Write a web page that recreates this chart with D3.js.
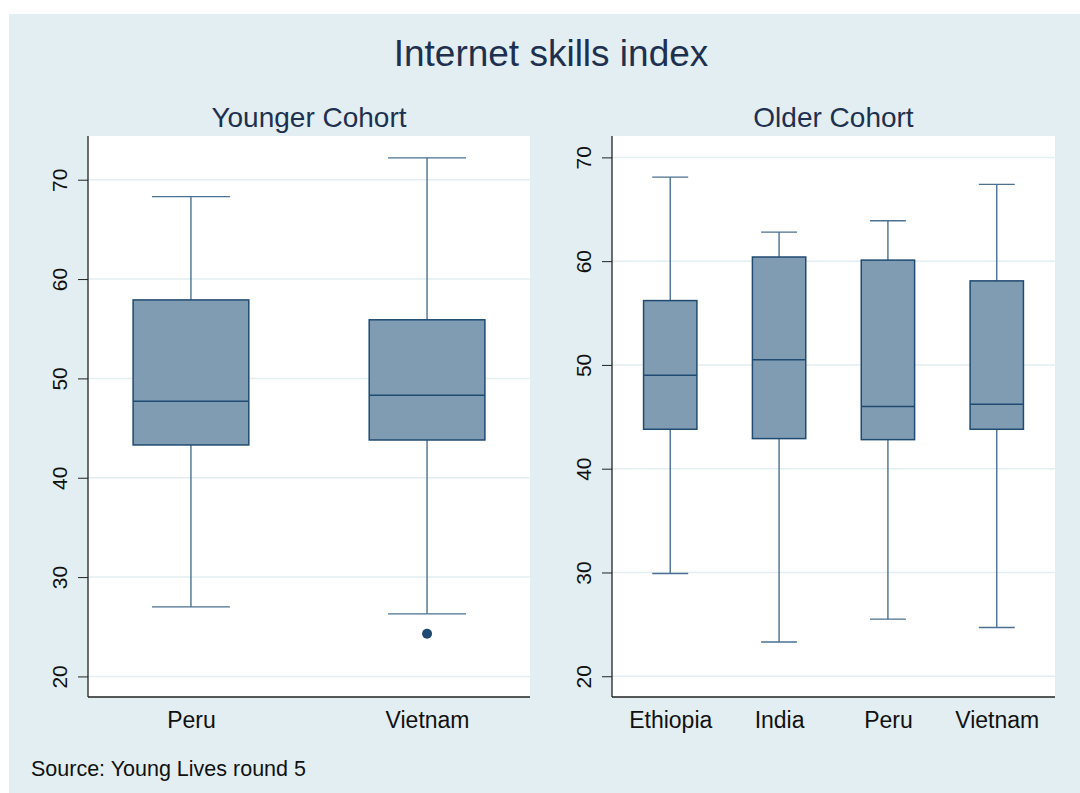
<!DOCTYPE html>
<html>
<head>
<meta charset="utf-8">
<script src="https://cdn.jsdelivr.net/npm/d3@7"></script>
<style>
  body { margin: 0; background: #fff; }
  text { font-family: "Liberation Sans", Arial, sans-serif; }
</style>
</head>
<body>
<script>
// data
var yTicks = [20, 30, 40, 50, 60, 70];

var youngCountries = ["Peru", "Vietnam"];
var youngMin    = [27.0, 26.3];
var youngQ1     = [43.3, 43.8];
var youngMedian = [47.7, 48.3];
var youngQ3     = [57.9, 55.9];
var youngMax    = [68.3, 72.2];
var youngOutliers = [[], [24.3]];

var olderCountries = ["Ethiopia", "India", "Peru", "Vietnam"];
var olderMin    = [29.9, 23.3, 25.5, 24.7];
var olderQ1     = [43.8, 42.9, 42.8, 43.8];
var olderMedian = [49.0, 50.5, 46.0, 46.2];
var olderQ3     = [56.2, 60.4, 60.1, 58.1];
var olderMax    = [68.1, 62.8, 63.9, 67.4];
var olderOutliers = [[], [], [], []];

var W = 1080, H = 793;
var boxFill = "#809cb3", boxLine = "#1f4a72", whiskerCol = "#4b7092";

var svg = d3.select("body").append("svg")
    .attr("width", W).attr("height", H);

// stata-ish background
svg.append("rect").attr("x", 9).attr("y", 14)
    .attr("width", W - 9).attr("height", H - 14)
    .attr("fill", "#e2eef1");

svg.append("text")
    .attr("x", 551).attr("y", 66)
    .attr("text-anchor", "middle")
    .attr("font-size", 37)
    .attr("fill", "#1e3050")
    .text("Internet skills index");

svg.append("text")
    .attr("x", 31).attr("y", 776)
    .attr("font-size", 21.5)
    .attr("fill", "#111")
    .text("Source: Young Lives round 5");

function drawPanel(opts) {
  var x0 = opts.x0, x1 = opts.x1, top = 136, bottom = 697;
  var rows = opts.cats.map(function(c, i) {
    return { cat: c, min: opts.min[i], q1: opts.q1[i], med: opts.med[i],
             q3: opts.q3[i], max: opts.max[i], out: opts.out[i] };
  });

  var y = d3.scaleLinear().domain(opts.domain).range([bottom, top]);
  var x = d3.scalePoint().domain(opts.cats).range([x0, x1]).padding(opts.pad);
  var step = x.step(), bw = step * 0.49, cw = step * 0.33;

  var g = svg.append("g");

  // plot region
  g.append("rect").attr("x", x0).attr("y", top)
      .attr("width", x1 - x0).attr("height", bottom - top)
      .attr("fill", "#fff");

  // grid
  g.selectAll(".grid").data(yTicks).enter().append("line")
      .attr("x1", x0).attr("x2", x1)
      .attr("y1", function(d) { return y(d); })
      .attr("y2", function(d) { return y(d); })
      .attr("stroke", "#e4eef2").attr("stroke-width", 1.5);

  // subtitle
  g.append("text")
      .attr("x", (x0 + x1) / 2).attr("y", 127)
      .attr("text-anchor", "middle")
      .attr("font-size", 28)
      .attr("fill", "#1e3050")
      .text(opts.title);

  // y axis
  var yAxis = d3.axisLeft(y).tickValues(yTicks).tickSize(10).tickPadding(4);
  var ya = g.append("g").attr("transform", "translate(" + x0 + ",0)").call(yAxis);
  ya.select(".domain").remove();
  ya.selectAll(".tick line").attr("stroke", "#222");
  ya.selectAll(".tick text")
      .attr("transform", "rotate(-90)")
      .attr("x", 0).attr("y", -21)
      .attr("dy", 0)
      .attr("text-anchor", "middle")
      .attr("font-size", 21)
      .attr("fill", "#111");
  g.append("line").attr("x1", x0).attr("x2", x0)
      .attr("y1", top).attr("y2", bottom)
      .attr("stroke", "#222").attr("stroke-width", 1.3);

  // x axis
  var xAxis = d3.axisBottom(x).tickSize(0).tickPadding(15);
  var xa = g.append("g").attr("transform", "translate(0," + bottom + ")").call(xAxis);
  xa.select(".domain").remove();
  xa.selectAll(".tick text").attr("font-size", 23).attr("fill", "#111");
  g.append("line").attr("x1", x0).attr("x2", x1)
      .attr("y1", bottom).attr("y2", bottom)
      .attr("stroke", "#222").attr("stroke-width", 1.3);

  var b = g.selectAll(".box").data(rows).enter().append("g");

  // whiskers
  b.append("line")
      .attr("x1", function(d) { return x(d.cat); })
      .attr("x2", function(d) { return x(d.cat); })
      .attr("y1", function(d) { return y(d.max); })
      .attr("y2", function(d) { return y(d.q3); })
      .attr("stroke", whiskerCol).attr("stroke-width", 1.4);
  b.append("line")
      .attr("x1", function(d) { return x(d.cat); })
      .attr("x2", function(d) { return x(d.cat); })
      .attr("y1", function(d) { return y(d.q1); })
      .attr("y2", function(d) { return y(d.min); })
      .attr("stroke", whiskerCol).attr("stroke-width", 1.4);
  ["max", "min"].forEach(function(k) {
    b.append("line")
        .attr("x1", function(d) { return x(d.cat) - cw / 2; })
        .attr("x2", function(d) { return x(d.cat) + cw / 2; })
        .attr("y1", function(d) { return y(d[k]); })
        .attr("y2", function(d) { return y(d[k]); })
        .attr("stroke", whiskerCol).attr("stroke-width", 1.4);
  });

  // box
  b.append("rect")
      .attr("x", function(d) { return x(d.cat) - bw / 2; })
      .attr("width", bw)
      .attr("y", function(d) { return y(d.q3); })
      .attr("height", function(d) { return y(d.q1) - y(d.q3); })
      .attr("fill", boxFill)
      .attr("stroke", boxLine).attr("stroke-width", 1.5);
  b.append("line")
      .attr("x1", function(d) { return x(d.cat) - bw / 2; })
      .attr("x2", function(d) { return x(d.cat) + bw / 2; })
      .attr("y1", function(d) { return y(d.med); })
      .attr("y2", function(d) { return y(d.med); })
      .attr("stroke", boxLine).attr("stroke-width", 1.5);

  // outside values
  b.selectAll(".out").data(function(d) {
      return d.out.map(function(v) { return { cat: d.cat, v: v }; });
    }).enter().append("circle")
      .attr("cx", function(d) { return x(d.cat); })
      .attr("cy", function(d) { return y(d.v); })
      .attr("r", 5)
      .attr("fill", "#1f4a72");
}

drawPanel({ title: "Younger Cohort", x0: 88, x1: 530, domain: [17.93, 74.4], pad: 0.436,
  cats: youngCountries, min: youngMin, q1: youngQ1, med: youngMedian, q3: youngQ3,
  max: youngMax, out: youngOutliers });

drawPanel({ title: "Older Cohort", x0: 612, x1: 1055, domain: [18.0, 72.06], pad: 0.535,
  cats: olderCountries, min: olderMin, q1: olderQ1, med: olderMedian, q3: olderQ3,
  max: olderMax, out: olderOutliers });
</script>
</body>
</html>
